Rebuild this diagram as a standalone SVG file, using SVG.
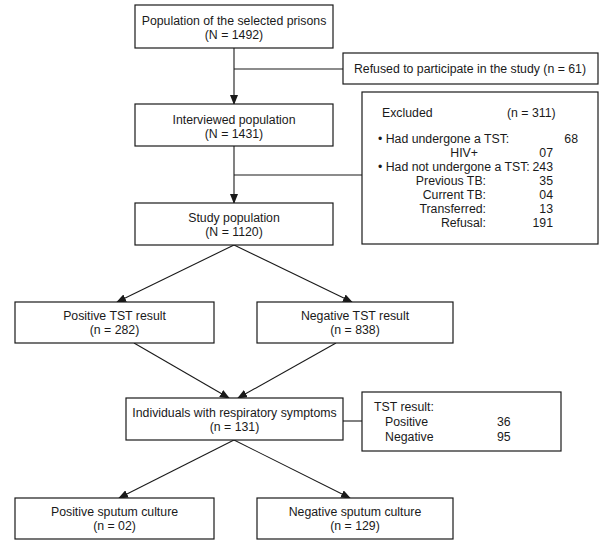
<svg xmlns="http://www.w3.org/2000/svg" width="605" height="550" viewBox="0 0 605 550">
<style>
  .box { fill: #ffffff; stroke: #1a1a1a; stroke-width: 1.2; }
  .ln { fill: none; stroke: #1a1a1a; stroke-width: 1.1; }
  .arr { marker-end: url(#ah); }
  text { font-family: "Liberation Sans", Arial, sans-serif; font-size: 12.3px; fill: #1a1a1a; }
  .c { text-anchor: middle; }
  .r { text-anchor: end; }
</style>
<defs>
  <marker id="ah" markerWidth="10" markerHeight="8" refX="9" refY="4" orient="auto" markerUnits="userSpaceOnUse">
    <path d="M0,0 L10,4 L0,8 Z" fill="#1a1a1a"/>
  </marker>
</defs>
<rect width="605" height="550" fill="#ffffff"/>

<g id="connectors">
  <line class="ln arr" x1="234" y1="48" x2="234" y2="104"/>
  <line class="ln" x1="234" y1="69" x2="343" y2="69"/>
  <line class="ln arr" x1="234" y1="146" x2="234" y2="203"/>
  <line class="ln" x1="234" y1="175" x2="362" y2="175"/>
  <line class="ln arr" x1="234" y1="245" x2="117" y2="302"/>
  <line class="ln arr" x1="234" y1="245" x2="352" y2="302"/>
  <line class="ln arr" x1="134" y1="343" x2="229" y2="398"/>
  <line class="ln arr" x1="336" y1="343" x2="238" y2="398"/>
  <line class="ln" x1="343" y1="421" x2="362" y2="421"/>
  <line class="ln arr" x1="234" y1="440" x2="119" y2="498"/>
  <line class="ln arr" x1="234" y1="440" x2="350" y2="498"/>
</g>

<g id="n-population">
  <rect class="box" x="135" y="5" width="198" height="43"/>
  <text class="c" x="234" y="25">Population of the selected prisons</text>
  <text class="c" x="234" y="39">(N = 1492)</text>
</g>

<g id="n-refused">
  <rect class="box" x="343" y="53" width="255" height="31"/>
  <text class="c" x="470" y="73">Refused to participate in the study (n = 61)</text>
</g>

<g id="n-interviewed">
  <rect class="box" x="135" y="104" width="198" height="42"/>
  <text class="c" x="234" y="124">Interviewed population</text>
  <text class="c" x="234" y="138">(N = 1431)</text>
</g>

<g id="n-excluded">
  <rect class="box" x="362" y="92" width="236" height="152"/>
  <text x="382" y="117">Excluded</text>
  <text x="507" y="117">(n = 311)</text>
  <text x="378" y="143">• Had undergone a TST:</text>
  <text class="r" x="578" y="143">68</text>
  <text class="r" x="478" y="157">HIV+</text>
  <text class="r" x="553" y="157">07</text>
  <text x="378" y="171">• Had not undergone a TST:</text>
  <text class="r" x="553" y="171">243</text>
  <text class="r" x="486" y="185">Previous TB:</text>
  <text class="r" x="553" y="185">35</text>
  <text class="r" x="486" y="199">Current TB:</text>
  <text class="r" x="553" y="199">04</text>
  <text class="r" x="486" y="213">Transferred:</text>
  <text class="r" x="553" y="213">13</text>
  <text class="r" x="486" y="227">Refusal:</text>
  <text class="r" x="553" y="227">191</text>
</g>

<g id="n-study">
  <rect class="box" x="135" y="203" width="198" height="42"/>
  <text class="c" x="234" y="222">Study population</text>
  <text class="c" x="234" y="236">(N = 1120)</text>
</g>

<g id="n-postst">
  <rect class="box" x="15" y="302" width="199" height="41"/>
  <text class="c" x="114.5" y="320">Positive TST result</text>
  <text class="c" x="114.5" y="334">(n = 282)</text>
</g>

<g id="n-negtst">
  <rect class="box" x="257" y="302" width="196" height="41"/>
  <text class="c" x="355" y="320">Negative TST result</text>
  <text class="c" x="355" y="334">(n = 838)</text>
</g>

<g id="n-individuals">
  <rect class="box" x="126" y="398" width="217" height="42"/>
  <text class="c" x="234.5" y="417">Individuals with respiratory symptoms</text>
  <text class="c" x="234.5" y="431">(n = 131)</text>
</g>

<g id="n-tstresult">
  <rect class="box" x="362" y="392" width="199" height="59"/>
  <text x="374" y="411">TST result:</text>
  <text x="385" y="426">Positive</text>
  <text x="497" y="426">36</text>
  <text x="385" y="441">Negative</text>
  <text x="497" y="441">95</text>
</g>

<g id="n-possputum">
  <rect class="box" x="15" y="498" width="199" height="41"/>
  <text class="c" x="114.5" y="516">Positive sputum culture</text>
  <text class="c" x="114.5" y="530">(n = 02)</text>
</g>

<g id="n-negsputum">
  <rect class="box" x="257" y="498" width="196" height="41"/>
  <text class="c" x="355" y="516">Negative sputum culture</text>
  <text class="c" x="355" y="530">(n = 129)</text>
</g>
</svg>
